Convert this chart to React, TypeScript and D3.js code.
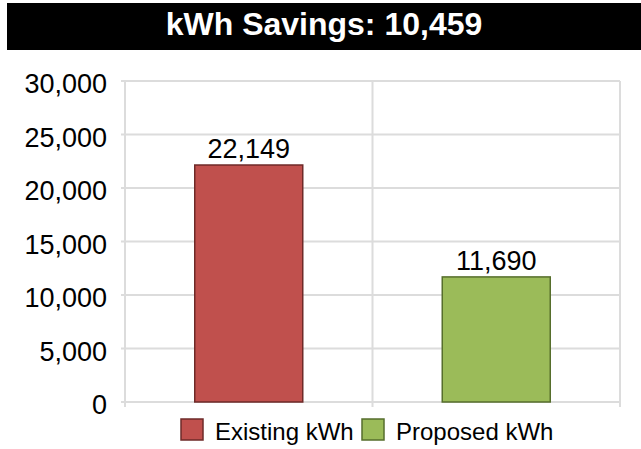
import React, { useEffect, useRef } from "react";
import * as d3 from "d3";

const categories = ["Existing kWh", "Proposed kWh"];
const values = [22149, 11690];
const fills = ["#c0504d", "#9bbb59"];
const strokes = ["#6e2a28", "#566e2c"];
const yTicks = [0, 5000, 10000, 15000, 20000, 25000, 30000];
const titleText = "kWh Savings: 10,459";

export default function App() {
  const ref = useRef<SVGSVGElement>(null);

  useEffect(() => {
    const width = 641;
    const height = 449;
    const left = 125;
    const right = 620;
    const top = 81;
    const bottom = 402;
    const font = "Arial, 'Liberation Sans', sans-serif";

    const svg = d3.select(ref.current);
    svg.selectAll("*").remove();
    svg.attr("width", width).attr("height", height);

    svg.append("rect").attr("width", width).attr("height", height).attr("fill", "#fff");

    // title band
    svg.append("rect").attr("x", 7).attr("y", 3).attr("width", width - 7).attr("height", 47).attr("fill", "#000");
    svg
      .append("text")
      .attr("x", 324)
      .attr("y", 35)
      .attr("text-anchor", "middle")
      .attr("fill", "#fff")
      .style("font-family", font)
      .style("font-weight", "bold")
      .style("font-size", "32px")
      .text(titleText);

    const x = d3.scaleBand().domain(categories).range([left, right]).paddingInner(0).paddingOuter(0);
    const y = d3.scaleLinear().domain([0, 30000]).range([bottom, top]);
    const fmt = d3.format(",");

    const grid = svg.append("g");
    grid
      .selectAll("line.h")
      .data(yTicks)
      .join("line")
      .attr("class", "h")
      .attr("x1", left - 4)
      .attr("x2", right)
      .attr("y1", (d) => y(d))
      .attr("y2", (d) => y(d))
      .attr("stroke", "#dcdcdc")
      .attr("stroke-width", 2);

    const bounds = [left, ...categories.map((c) => (x(c) as number) + x.bandwidth())];
    grid
      .selectAll("line.v")
      .data(bounds)
      .join("line")
      .attr("class", "v")
      .attr("x1", (d) => d)
      .attr("x2", (d) => d)
      .attr("y1", top)
      .attr("y2", bottom + 5)
      .attr("stroke", "#dcdcdc")
      .attr("stroke-width", 2);

    svg
      .append("g")
      .selectAll("text")
      .data(yTicks)
      .join("text")
      .attr("x", 107)
      .attr("y", (d) => y(d) + 12)
      .attr("text-anchor", "end")
      .style("font-family", font)
      .style("font-size", "27px")
      .attr("fill", "#000")
      .text((d) => fmt(d));

    const bw = 108;
    const bars = svg.append("g");
    bars
      .selectAll("rect")
      .data(values)
      .join("rect")
      .attr("x", (_, i) => (x(categories[i]) as number) + x.bandwidth() / 2 - bw / 2)
      .attr("y", (d) => y(d))
      .attr("width", bw)
      .attr("height", (d) => bottom - y(d))
      .attr("fill", (_, i) => fills[i])
      .attr("stroke", (_, i) => strokes[i])
      .attr("stroke-width", 1.5);

    bars
      .selectAll("text")
      .data(values)
      .join("text")
      .attr("x", (_, i) => (x(categories[i]) as number) + x.bandwidth() / 2)
      .attr("y", (d) => y(d) - 7)
      .attr("text-anchor", "middle")
      .style("font-family", font)
      .style("font-size", "27px")
      .attr("fill", "#000")
      .text((d) => fmt(d));

    const legendX = [181, 362];
    const legend = svg.append("g");
    legend
      .selectAll("rect")
      .data(categories)
      .join("rect")
      .attr("x", (_, i) => legendX[i])
      .attr("y", 419)
      .attr("width", 22)
      .attr("height", 21)
      .attr("fill", (_, i) => fills[i])
      .attr("stroke", (_, i) => strokes[i])
      .attr("stroke-width", 1.5);
    legend
      .selectAll("text")
      .data(categories)
      .join("text")
      .attr("x", (_, i) => legendX[i] + 34)
      .attr("y", 440)
      .style("font-family", font)
      .style("font-size", "24px")
      .attr("fill", "#000")
      .text((d) => d);
  }, []);

  return <svg ref={ref} style={{ position: "absolute", left: 0, top: 0 }}></svg>;
}
